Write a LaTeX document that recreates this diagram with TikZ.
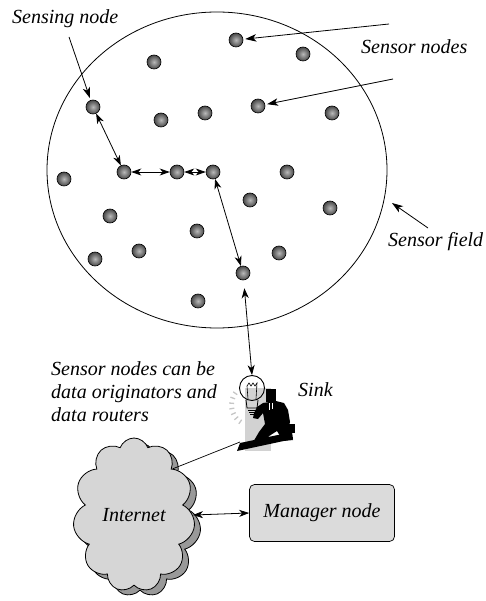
\documentclass[tikz,border=0pt]{standalone}
\usepackage{fontspec}
\setmainfont{Liberation Serif}
\usetikzlibrary{arrows.meta,shapes.symbols,shadows,positioning}
\tikzset{
	sensor/.style={circle, draw=black, line width=0.6pt, shading=radial, inner color=gray!55, outer color=black!72, minimum size=14pt, inner sep=0pt},
	note/.style={font=\itshape\fontsize{20}{23}\selectfont, inner sep=0pt},
	link/.style={{Stealth[length=10pt,width=7pt,inset=3pt]}-{Stealth[length=10pt,width=7pt,inset=3pt]}, line width=0.8pt},
	pointer/.style={-{Stealth[length=11pt,width=7.5pt,inset=3pt]}, line width=0.8pt, shorten >=2pt}
}
\newcommand{\linksensors}[2]{
	\draw[link] (#1) -- (#2);
}

\begin{document}
\begin{tikzpicture}[x=1pt, y=-1pt]
	\useasboundingbox (0,0) rectangle (486,601);

	% sensor field
	\draw[line width=0.8pt] (217,170) ellipse [x radius=170pt, y radius=158pt];

	\node[sensor] (n1) at (236,40) {};
	\node[sensor] (n2) at (303,54) {};
	\node[sensor] (n3) at (154,62) {};
	\node[sensor] (sensing) at (93,107) {};
	\node[sensor] (n5) at (161,120) {};
	\node[sensor] (n6) at (205,113) {};
	\node[sensor] (n7) at (258,106) {};
	\node[sensor] (n8) at (332,113) {};
	\node[sensor] (n9) at (64,179) {};
	\node[sensor] (hop1) at (124,172) {};
	\node[sensor] (hop2) at (177,172) {};
	\node[sensor] (hop3) at (213,172) {};
	\node[sensor] (n13) at (287,172) {};
	\node[sensor] (n14) at (250,200) {};
	\node[sensor] (n15) at (330,208) {};
	\node[sensor] (n16) at (110,216) {};
	\node[sensor] (n17) at (197,231) {};
	\node[sensor] (n18) at (139,251) {};
	\node[sensor] (n19) at (95,259) {};
	\node[sensor] (n20) at (279,253) {};
	\node[sensor] (hop4) at (243,273) {};
	\node[sensor] (n22) at (198,301) {};

	% multi-hop route towards the sink
	\linksensors{sensing}{hop1}
	\linksensors{hop1}{hop2}
	\linksensors{hop2}{hop3}
	\linksensors{hop3}{hop4}

	% labels
	\node[note, anchor=base west] (sensing-txt) at (12,24) {Sensing node};
	\node[note, anchor=base west] (nodes-txt) at (361,54) {Sensor nodes};
	\node[note, anchor=base west] (field-txt) at (388,247) {Sensor field};
	\node[note, anchor=north west, align=left] (role-txt) at (51,361) {Sensor nodes can be\\data originators and\\data routers};
	\node[note, anchor=base west] (sink-txt) at (298,396) {Sink};

	\coordinate (sensing-tail) at (69,37);
	\coordinate (nodes-tail-a) at (389,24);
	\coordinate (nodes-tail-b) at (393,79);
	\coordinate (field-tail) at (428,228);
	\coordinate (field-tip) at (392,203);
	\draw[pointer] (sensing-tail) -- (sensing);
	\draw[pointer] (nodes-tail-a) -- (n1);
	\draw[pointer] (nodes-tail-b) -- (n7);
	\draw[pointer, shorten >=0pt] (field-tail) -- (field-tip);

	% sink: man with light bulb
	\fill[gray!35] (245,388) rectangle (271,451);
	\foreach \a in {145,160,...,235}
		\draw[gray!45, line width=1.3pt] (252,405) ++(\a:18pt) -- ++(\a:5pt);
	\node[circle, draw, line width=0.9pt, minimum size=25pt, inner sep=0pt] (bulb) at (252,388) {};
	\draw[line width=0.6pt] (248,399) -- (247,386) -- (249,383) -- (251,386) -- (253,383) -- (255,386) -- (257,383) -- (256,399);
	\draw[line width=0.8pt] (246,400) -- (247,408) -- (257,408) -- (258,400);
	\draw[line width=0.8pt] (248,410) -- (256,410) (249,412) -- (255,412) (250,414) -- (254,414);
	\fill[black] (263,403) -- (257,407) -- (254,413) -- (253,418) -- (258,419) -- (263,413) -- (265,424)
		-- (259,432) -- (252,444) -- (263,445) -- (269,436) -- (277,431) -- (283,441) -- (293,440)
		-- (288,429) -- (290,422) -- (288,410) -- (284,403) -- (276,401) -- cycle;
	\fill[black] (266,389) rectangle (276,402);
	\fill[black] (285,424) rectangle (295,433);
	\draw[white, line width=0.6pt] (269,403) -- (269,410) (272,403) -- (272,409);
	\fill[black] (237,451) -- (240,443) -- (292,432) -- (293,439) -- cycle;
	\coordinate (sink-base) at (240,442);

	\draw[link, shorten <=8pt] (hop4) -- (bulb.north);

	% internet and manager
	\node[cloud, cloud puffs=11, cloud puff arc=140, cloud ignores aspect,
		minimum width=122pt, minimum height=154pt, draw, line width=0.8pt, fill=gray!32,
		general shadow={shadow xshift=6pt, shadow yshift=-5pt, fill=gray!80, draw=black, line width=0.8pt},
		note] (internet) at (134,515) {Internet};
	\node[draw, rounded corners=5pt, fill=gray!28, minimum width=145pt, minimum height=57pt,
		line width=0.7pt, note] (manager) at (322,513) {Manager node};

	\draw[line width=0.7pt] (internet.50) -- (sink-base);
	\draw[link] (internet.east) -- (manager.west);
\end{tikzpicture}
\end{document}
